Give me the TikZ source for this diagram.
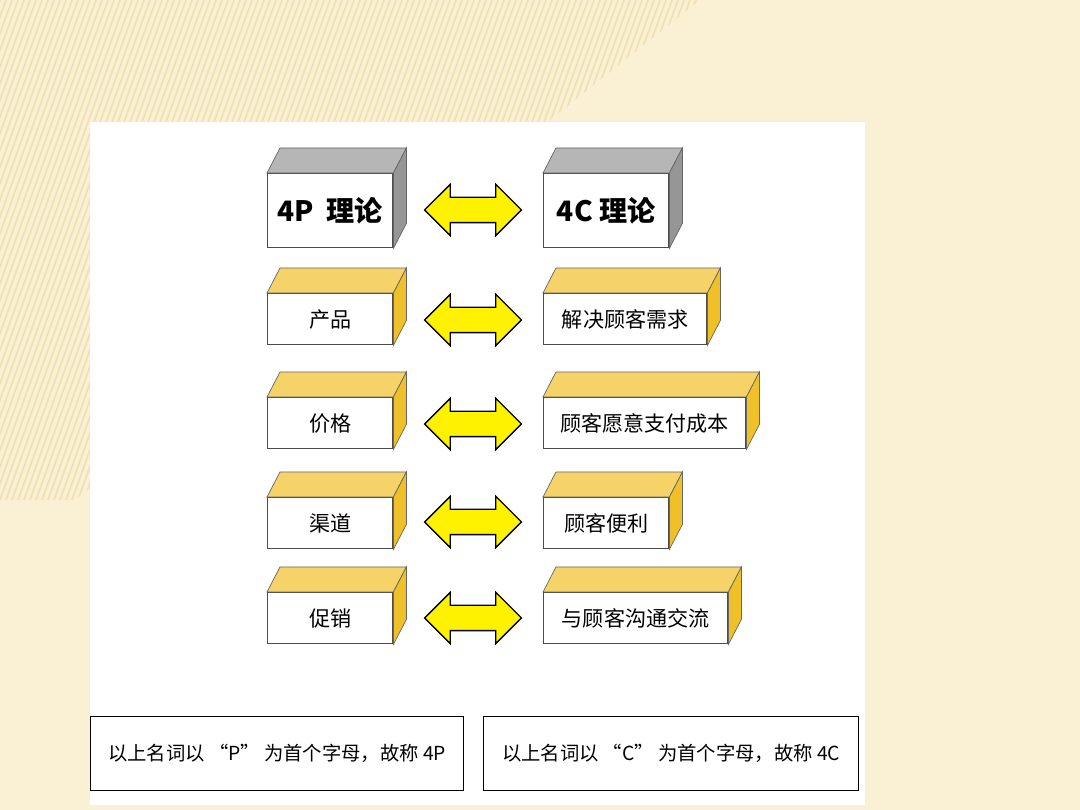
\documentclass[tikz,border=0pt]{standalone}
\usepackage{fontspec}
\newfontfamily\cjk{Noto Sans CJK SC}
\usetikzlibrary{shapes.arrows,calc}
\definecolor{cream}{RGB}{250,240,212}
\definecolor{stripe}{RGB}{240,224,182}
\definecolor{gold}{RGB}{240,192,40}
\definecolor{greyside}{RGB}{150,150,150}
\tikzset{
  front/.style={draw=black!70,fill=white,thick,anchor=north west,inner sep=0,
    font=\cjk\fontsize{12}{12}\selectfont},
  dblarrow/.style={double arrow,draw=black,thick,fill=yellow,
    minimum height=1.94cm,double arrow head extend=0.26cm,inner xsep=0,inner ysep=0.24cm},
  note/.style={draw=black,thick,fill=white,anchor=north west,inner sep=0,
    minimum height=1.48cm,font=\cjk\fontsize{11}{11}\selectfont}
}
% front face, then top and side faces
\newcommand\cube[7]{%
  \node[front,minimum width=#4*0.02cm,minimum height=#5*0.02cm] (#1) at (#2,#3) {#6};
  \fill[#7!70!white,draw=black!60] (#1.north west) -- ++(13,-25) -- ($(#1.north east)+(13,-25)$) -- (#1.north east) -- cycle;
  \fill[#7,draw=black!60] (#1.north east) -- ++(13,-25) -- ($(#1.south east)+(13,-25)$) -- (#1.south east) -- cycle;
}
\begin{document}
\begin{tikzpicture}[x=0.02cm,y=-0.02cm]
  \fill[cream] (0,0) rectangle (1080,810);
  \begin{scope}
    \clip (0,0) -- (700,0) -- (0,560) -- cycle;
    \foreach \i in {0,6,...,900}
      \draw[stripe,line width=1pt] (\i,0) -- +(-180,500);
  \end{scope}
  \fill[white] (90,122) rectangle (865,805);

  \cube{p0}{267}{173}{125}{74}{\bfseries\fontsize{16}{16}\selectfont 4P\ \ 理论}{greyside}
  \cube{c0}{543}{173}{125}{74}{\bfseries\fontsize{16}{16}\selectfont 4C 理论}{greyside}
  \cube{p1}{267}{293}{125}{51}{产品}{gold}
  \cube{c1}{543}{293}{163}{51}{解决顾客需求}{gold}
  \cube{p2}{267}{397}{125}{51}{价格}{gold}
  \cube{c2}{543}{397}{202}{51}{顾客愿意支付成本}{gold}
  \cube{p3}{267}{497}{125}{51}{渠道}{gold}
  \cube{c3}{543}{497}{125}{51}{顾客便利}{gold}
  \cube{p4}{267}{592}{125}{51}{促销}{gold}
  \cube{c4}{543}{592}{184}{51}{与顾客沟通交流}{gold}

  \foreach \r/\yy in {0/210,1/320,2/424,3/522,4/618}
    \node[dblarrow] (a\r) at (473,\yy) {};

  \node[note,minimum width=7.46cm] (n1) at (90,716) {以上名词以 “P” 为首个字母，故称 4P};
  \node[note,minimum width=7.5cm] (n2) at (483,716) {以上名词以 “C” 为首个字母，故称 4C};
\end{tikzpicture}
\end{document}
